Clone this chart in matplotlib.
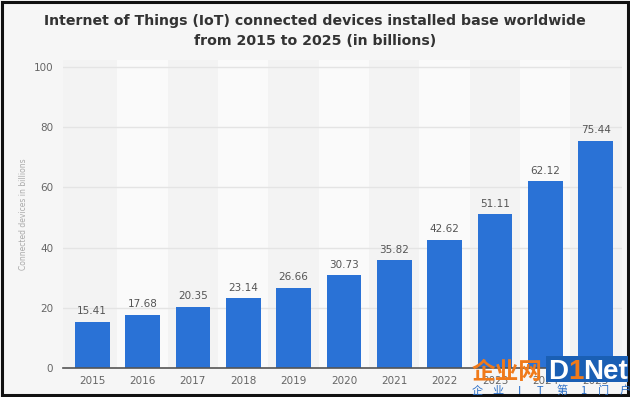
import matplotlib.pyplot as plt
from matplotlib.patches import Rectangle

plt.rcParams['font.family'] = ['DejaVu Sans', 'Noto Sans CJK SC']

# Data
years = ['2015', '2016', '2017', '2018', '2019', '2020',
         '2021', '2022', '2023', '2024', '2025']
devices = [15.41, 17.68, 20.35, 23.14, 26.66, 30.73,
           35.82, 42.62, 51.11, 62.12, 75.44]
y_ticks = [0, 20, 40, 60, 80, 100]

TITLE = ('Internet of Things (IoT) connected devices installed base worldwide\n'
         'from 2015 to 2025 (in billions)')
YLABEL = 'Connected devices in billions'
SLOGAN = ['企', '业', 'I', 'T', '第', '1', '门', '户']

fig = plt.figure(figsize=(6.3, 3.97), dpi=100)
fig.patch.set_facecolor('#f6f6f6')
# black frame around the whole picture
fig.patches.append(Rectangle((0.003, 0.005), 0.994, 0.99, transform=fig.transFigure,
                             fill=False, edgecolor='#111111', linewidth=2.2))

ax = fig.add_axes([0.100, 0.073, 0.887, 0.776])
ax.set_facecolor('#f3f3f3')
x = list(range(len(years)))

# alternating column stripes
for i in x:
    if i % 2 == 1:
        ax.axvspan(i - 0.5, i + 0.5, color='#fafafa', zorder=0, linewidth=0)

for t in y_ticks[1:]:
    ax.axhline(t, color='#e4e4e4', linewidth=1.0, zorder=1)

bars = ax.bar(x, devices, width=0.69, color='#2a72d6', zorder=3)
for xi, v in zip(x, devices):
    ax.text(xi, v + 1.8, f'{v:.2f}', ha='center', va='bottom',
            fontsize=7.5, color='#555555', zorder=4)

ax.set_xlim(-0.58, 10.52)
ax.set_ylim(0, 102.3)
ax.set_xticks(x)
ax.set_xticklabels(years)
ax.set_yticks(y_ticks)
ax.tick_params(axis='both', length=0, labelsize=7.5, labelcolor='#666666')
ax.tick_params(axis='x', pad=6)
ax.tick_params(axis='y', pad=7)
for side in ['top', 'right', 'left']:
    ax.spines[side].set_visible(False)
ax.spines['bottom'].set_color('#555555')
ax.spines['bottom'].set_linewidth(1.2)
ax.spines['bottom'].set_zorder(5)
ax.set_ylabel(YLABEL, fontsize=5.5, color='#aaaaaa', labelpad=4)

fig.text(0.5, 0.965, TITLE, ha='center', va='top', fontsize=10.2,
         fontweight='bold', color='#333333', linespacing=1.55)

# watermark logo (overlaps the last year labels, as in the source image)
fig.text(0.749, 0.046, '企业网', fontsize=17, fontweight='bold', color='#f07a1a',
         family=['Noto Sans CJK SC'], va='baseline', ha='left', zorder=10)
fig.patches.append(Rectangle((0.867, 0.038), 0.130, 0.066, transform=fig.transFigure,
                             facecolor='#1a5fb4', edgecolor='none', zorder=9))
fig.text(0.870, 0.045, 'D', fontsize=20, fontweight='bold', color='white',
         family=['Liberation Sans'], va='baseline', ha='left', zorder=10)
fig.text(0.9016, 0.045, '1', fontsize=20, fontweight='bold', color='#f07a1a',
         family=['Liberation Sans'], va='baseline', ha='left', zorder=10)
fig.text(0.926, 0.045, 'Net', fontsize=20, fontweight='bold', color='white',
         family=['Liberation Sans'], va='baseline', ha='left', zorder=10)
for k, ch in enumerate(SLOGAN):
    fig.text(0.757 + k * 0.0336, 0.016, ch, fontsize=8, color='#2a6fc8',
             family=['Noto Sans CJK SC'], va='center', ha='center', zorder=10)

fig.savefig('out.png', dpi=100, facecolor=fig.get_facecolor())
